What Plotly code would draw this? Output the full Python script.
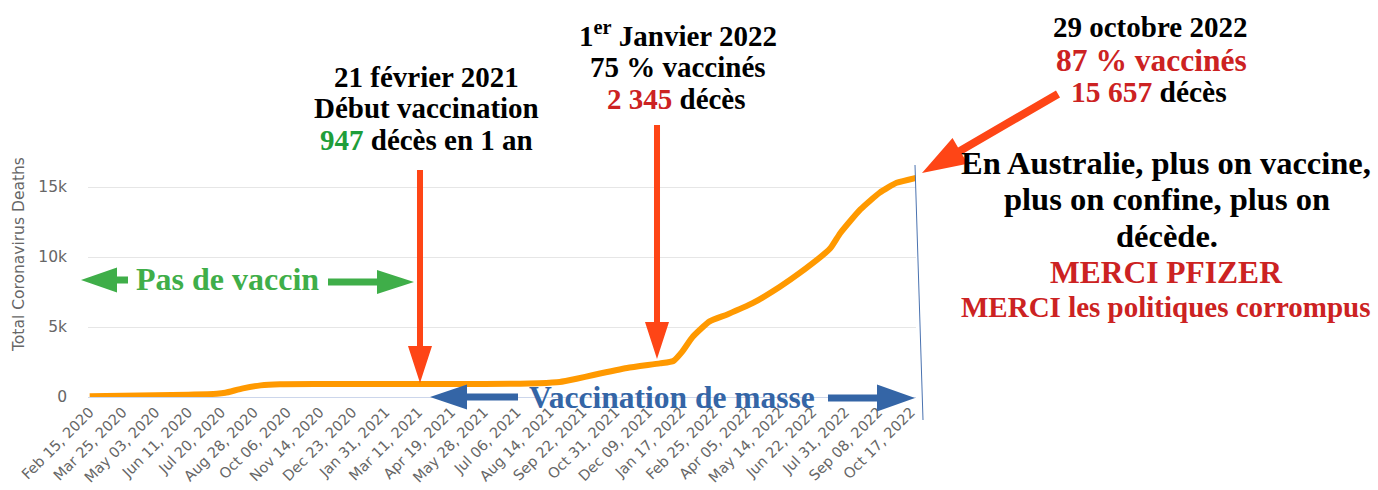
import math
import plotly.graph_objects as go

W, H = 1378, 490
# plot area (pixels)
PL, PR, PT, PB = 88, 916, 159, 397

dates = [
    "2020-02-15", "2020-03-25", "2020-05-03", "2020-06-11", "2020-07-15",
    "2020-07-25", "2020-08-15", "2020-09-05", "2020-09-28", "2020-11-14",
    "2021-01-31", "2021-04-19", "2021-07-10", "2021-08-01", "2021-08-26",
    "2021-09-15", "2021-10-05", "2021-11-14", "2021-12-23", "2022-01-08",
    "2022-01-18", "2022-01-31", "2022-02-20", "2022-03-13", "2022-04-12",
    "2022-05-14", "2022-06-07", "2022-07-13", "2022-07-25", "2022-08-18",
    "2022-09-10", "2022-09-30", "2022-10-23",
]
deaths = [
    50, 90, 130, 165, 230,
    300, 620, 830, 910, 925,
    930, 935, 940, 980, 1070,
    1300, 1570, 2070, 2400, 2570,
    3200, 4300, 5400, 5900, 6700,
    7860, 8860, 10600, 11700, 13400,
    14600, 15300, 15657,
]

tick_dates = [
    "2020-02-15", "2020-03-25", "2020-05-03", "2020-06-11", "2020-07-20",
    "2020-08-28", "2020-10-06", "2020-11-14", "2020-12-23", "2021-01-31",
    "2021-03-11", "2021-04-19", "2021-05-28", "2021-07-06", "2021-08-14",
    "2021-09-22", "2021-10-31", "2021-12-09", "2022-01-17", "2022-02-25",
    "2022-04-05", "2022-05-14", "2022-06-22", "2022-07-31", "2022-09-08",
    "2022-10-17",
]
tick_labels = [
    "Feb 15, 2020", "Mar 25, 2020", "May 03, 2020", "Jun 11, 2020", "Jul 20, 2020",
    "Aug 28, 2020", "Oct 06, 2020", "Nov 14, 2020", "Dec 23, 2020", "Jan 31, 2021",
    "Mar 11, 2021", "Apr 19, 2021", "May 28, 2021", "Jul 06, 2021", "Aug 14, 2021",
    "Sep 22, 2021", "Oct 31, 2021", "Dec 09, 2021", "Jan 17, 2022", "Feb 25, 2022",
    "Apr 05, 2022", "May 14, 2022", "Jun 22, 2022", "Jul 31, 2022", "Sep 08, 2022",
    "Oct 17, 2022",
]
ytick_vals = [0, 5000, 10000, 15000]
ytick_text = ["0", "5k", "10k", "15k"]


def fx(x):
    return x / W


def fy(y):
    return 1 - y / H


RED = "#cc2222"
GREEN_T = "#1f9e3a"
ORANGE_RED = "#fe4516"
GREEN = "#3fae49"
BLUE = "#3465a6"

fig = go.Figure()
fig.add_trace(go.Scatter(
    x=dates, y=deaths, mode="lines",
    line=dict(color="#ff9900", width=6, shape="spline", smoothing=0.5),
    hoverinfo="skip", showlegend=False,
))

fig.update_layout(
    width=W, height=H,
    margin=dict(l=0, r=0, t=0, b=0, autoexpand=False),
    paper_bgcolor="white", plot_bgcolor="white",
    showlegend=False,
    xaxis=dict(
        domain=[fx(PL), fx(PR)],
        range=["2020-02-13", "2022-10-23"],
        automargin=False,
        tickmode="array", tickvals=tick_dates, ticktext=tick_labels,
        tickangle=-45, showgrid=False, zeroline=False,
        showline=True, linecolor="#ccd6eb", linewidth=1,
        ticks="", tickfont=dict(family="DejaVu Sans", size=14.5, color="#666666"),
    ),
    yaxis=dict(
        domain=[fy(PB), fy(PT)],
        range=[0, 17000],
        automargin=False,
        tickmode="array", tickvals=ytick_vals, ticktext=ytick_text,
        showgrid=True, gridcolor="#e6e6e6", gridwidth=1,
        zeroline=False, showline=False, ticks="",
        ticklabelstandoff=20,
        tickfont=dict(family="DejaVu Sans", size=15.5, color="#666666"),
    ),
)


def arrow_path(x0, y0, x1, y1, shaft, head_w, head_len):
    dx, dy = x1 - x0, y1 - y0
    L = math.hypot(dx, dy)
    ux, uy = dx / L, dy / L
    nx, ny = -uy, ux
    bx, by = x1 - ux * head_len, y1 - uy * head_len
    pts = [
        (x0 + nx * shaft / 2, y0 + ny * shaft / 2),
        (bx + nx * shaft / 2, by + ny * shaft / 2),
        (bx + nx * head_w / 2, by + ny * head_w / 2),
        (x1, y1),
        (bx - nx * head_w / 2, by - ny * head_w / 2),
        (bx - nx * shaft / 2, by - ny * shaft / 2),
        (x0 - nx * shaft / 2, y0 - ny * shaft / 2),
    ]
    return "M " + " L ".join(f"{fx(a):.5f},{fy(b):.5f}" for a, b in pts) + " Z"


arrows = [
    # (x0, y0, x1, y1, shaft, head_w, head_len, color)
    (420, 170, 420, 383, 6, 24, 37, ORANGE_RED),
    (657, 125, 657, 359, 6, 24, 37, ORANGE_RED),
    (1058, 94, 922, 173, 8, 30, 44, ORANGE_RED),
    (128, 280, 81, 280, 7, 25, 36, GREEN),
    (328, 282, 414, 282, 7, 24, 37, GREEN),
    (518, 397, 430, 397, 7, 25, 37, BLUE),
    (828, 398, 915, 398, 7, 27, 38, BLUE),
]
shapes = []
for x0, y0, x1, y1, sw, hw, hl, col in arrows:
    shapes.append(dict(type="path", xref="paper", yref="paper",
                       path=arrow_path(x0, y0, x1, y1, sw, hw, hl),
                       fillcolor=col, line=dict(width=0), layer="above"))
shapes.append(dict(type="line", xref="paper", yref="paper",
                   x0=fx(915), y0=fy(165), x1=fx(923), y1=fy(420),
                   line=dict(color="#4a72b0", width=1), layer="above"))
fig.update_layout(shapes=shapes)

SERIF = "Liberation Serif"
texts = [
    # (x, y, text, size)
    (426, 77, "<b>21 février 2021</b>", 29),
    (426, 108, "<b>Début vaccination</b>", 29),
    (426, 140, f"<b><span style='color:{GREEN_T}'>947</span> décès en 1 an</b>", 29),
    (678, 34, "<b>1<sup>er</sup> Janvier 2022</b>", 29),
    (678, 67, "<b>75 % vaccinés</b>", 29),
    (676, 99, f"<b><span style='color:{RED}'>2 345</span> décès</b>", 29),
    (1150, 27, "<b>29 octobre 2022</b>", 29),
    (1151, 60, f"<b><span style='color:{RED}'>87 % vaccinés</span></b>", 31.5),
    (1149, 92, f"<b><span style='color:{RED}'>15 657</span> décès</b>", 29.5),
    (1166, 163, "<b>En Australie, plus on vaccine,</b>", 32.5),
    (1167, 199, "<b>plus on confine, plus on</b>", 32.5),
    (1167, 236, "<b>décède.</b>", 32.5),
    (1166, 272, f"<b><span style='color:{RED}'>MERCI PFIZER</span></b>", 31.5),
    (1166, 307, f"<b><span style='color:{RED}'>MERCI les politiques corrompus</span></b>", 29),
    (227, 279, f"<b><span style='color:{GREEN}'>Pas de vaccin</span></b>", 32),
    (672, 397, f"<b><span style='color:{BLUE}'>Vaccination de masse</span></b>", 31.5),
]
annotations = []
for x, y, t, s in texts:
    annotations.append(dict(
        x=fx(x), y=fy(y), xref="paper", yref="paper", text=t, showarrow=False,
        xanchor="center", yanchor="middle",
        font=dict(family=SERIF, size=s, color="black"),
    ))
annotations.append(dict(
    x=fx(19), y=fy(255), xref="paper", yref="paper",
    text="Total Coronavirus Deaths", showarrow=False, textangle=-90,
    xanchor="center", yanchor="middle",
    font=dict(family="DejaVu Sans", size=15.5, color="#666666"),
))
fig.update_layout(annotations=annotations)

fig.write_html("out.html", config={"displayModeBar": False},
               post_script="document.body.style.margin='0';")
